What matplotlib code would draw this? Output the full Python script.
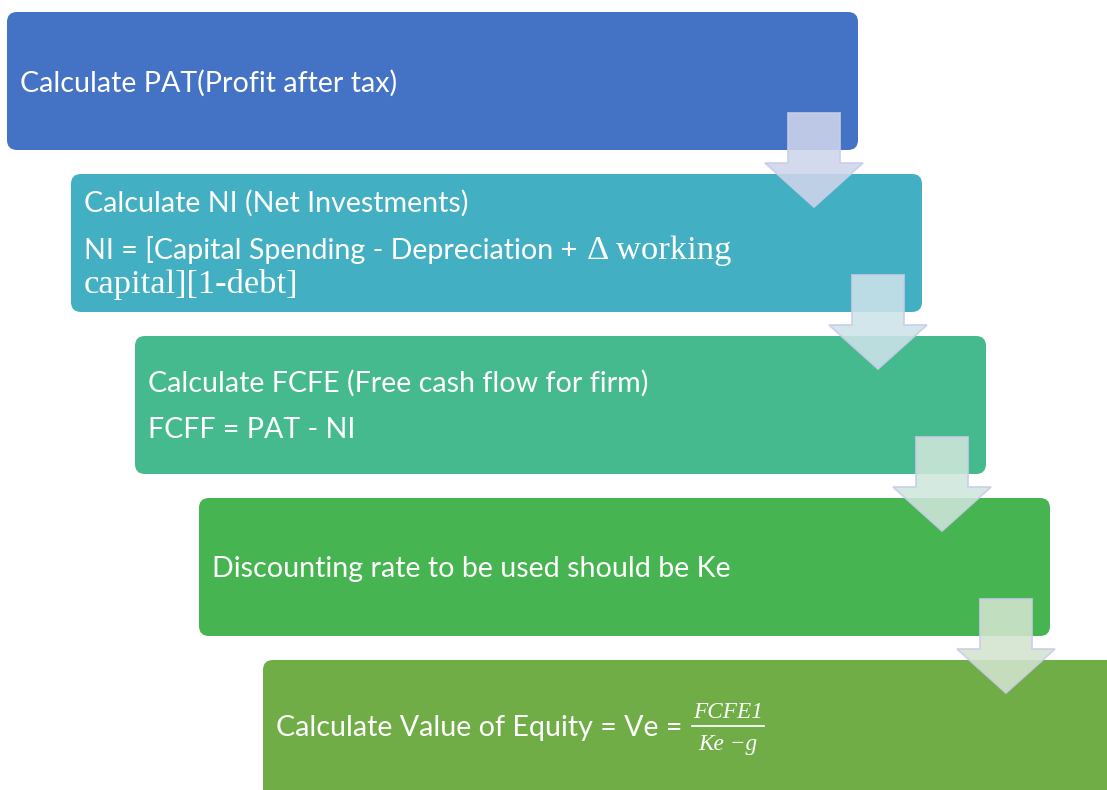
import matplotlib
matplotlib.use("Agg")
import matplotlib.pyplot as plt
from matplotlib.patches import FancyBboxPatch, Polygon
from matplotlib.lines import Line2D

# ---- content ----
step_titles = [
    "Calculate PAT(Profit after tax)",
    "Calculate NI (Net Investments)",
    "Calculate FCFE (Free cash flow for firm)",
    "Discounting rate to be used should be Ke",
    "Calculate Value of Equity = Ve = ",
]
ni_formula_sans = "NI = [Capital Spending - Depreciation + "
ni_formula_serif1 = "\u0394 working"
ni_formula_serif2 = "capital][1-debt]"
fcff_formula = "FCFF = PAT - NI"
frac_num = "FCFE1"
frac_den = "Ke \u2212g"

box_colors = ["#4472C4", "#43AFC2", "#44BA8E", "#46B450", "#70AD47"]
arrow_colors = ["#CFD5EC", "#CDE3EA", "#CFE6DB", "#D3E4CE"]
arrow_edge = "#C9CDE8"

# ---- layout (pixels) ----
W, H = 1107, 790
fig = plt.figure(figsize=(W / 100, H / 100), dpi=100)
ax = fig.add_axes([0, 0, 1, 1])
ax.set_xlim(0, W)
ax.set_ylim(H, 0)
ax.axis("off")

box_x0, box_y0 = 7, 12
box_w, box_h = 851, 138
dx, dy = 64, 162
FONT = "Lato"
SERIF = "Liberation Serif"

for i, c in enumerate(box_colors):
    x = box_x0 + i * dx
    y = box_y0 + i * dy
    w = box_w if i < 4 else box_w + 40
    h = box_h if i < 4 else box_h + 30
    p = FancyBboxPatch((x, y), w, h, boxstyle="round,pad=0,rounding_size=10",
                       facecolor=c, edgecolor="none", zorder=1)
    ax.add_patch(p)

# arrows
for i, c in enumerate(arrow_colors):
    ox = i * dx
    oy = i * dy
    sx0, sx1 = 788 + ox, 840 + ox
    top = 113 + oy
    hb = 163 + oy
    hx0, hx1 = 765 + ox, 863 + ox
    tip = 207 + oy
    tx = (sx0 + sx1) / 2
    pts = [(sx0, top), (sx1, top), (sx1, hb), (hx1, hb), (tx, tip), (hx0, hb), (sx0, hb)]
    ax.add_patch(Polygon(pts, closed=True, facecolor=c, edgecolor=arrow_edge,
                         lw=1.3, alpha=0.88, zorder=3, joinstyle="miter"))

r = fig.canvas.get_renderer()


def fit_size(text, family, target, style="normal"):
    t = ax.text(0, 0, text, fontsize=20, family=family, style=style)
    fig.canvas.draw()
    w = t.get_window_extent(r).width
    t.remove()
    return 20 * target / w


fs = fit_size(step_titles[0], FONT, 377)
serif_fs = fit_size(ni_formula_serif2, SERIF, 214)
ffs = fit_size(frac_num, SERIF, 70, style="italic")

tx0 = 13  # text inset from box left
baselines = [92, 212, 392, 577, 736]
texts = []
for i, t in enumerate(step_titles):
    x = box_x0 + i * dx + tx0
    texts.append(ax.text(x, baselines[i], t, fontsize=fs, family=FONT, color="white",
                         va="baseline", ha="left", zorder=4))

# NI formula
x2 = box_x0 + dx + tx0
t_ni = ax.text(x2, 259, ni_formula_sans, fontsize=fs, family=FONT, color="white",
               va="baseline", ha="left", zorder=4)
fig.canvas.draw()
bb = t_ni.get_window_extent(r)
inv = ax.transData.inverted()
xend = inv.transform((bb.x1, bb.y0))[0]
ax.text(xend + 2, 259, ni_formula_serif1, fontsize=serif_fs, family=SERIF, color="white",
        va="baseline", ha="left", zorder=4)
ax.text(x2, 293, ni_formula_serif2, fontsize=serif_fs, family=SERIF, color="white",
        va="baseline", ha="left", zorder=4)

# FCFF formula
x3 = box_x0 + 2 * dx + tx0
ax.text(x3, 438, fcff_formula, fontsize=fs, family=FONT, color="white",
        va="baseline", ha="left", zorder=4)

# fraction
fig.canvas.draw()
bb5 = texts[4].get_window_extent(r)
x5end = inv.transform((bb5.x1, bb5.y0))[0]
fx0 = x5end + 2
fx1 = fx0 + 72
fcx = (fx0 + fx1) / 2
ax.text(fcx, 718, frac_num, fontsize=ffs, family=SERIF, style="italic", color="white",
        ha="center", va="baseline", zorder=4)
ax.add_line(Line2D([fx0, fx1], [726, 726], color="white", lw=1.3, zorder=4))
ax.text(fcx, 750, frac_den, fontsize=ffs, family=SERIF, style="italic", color="white",
        ha="center", va="baseline", zorder=4)

fig.savefig("out.png", dpi=100, facecolor="white")
